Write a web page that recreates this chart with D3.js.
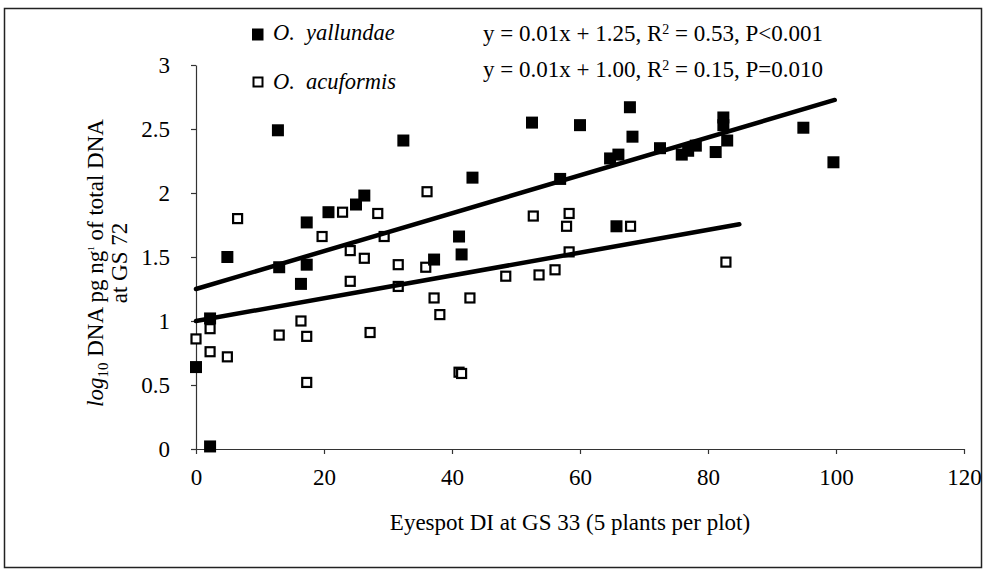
<!DOCTYPE html>
<html>
<head>
<meta charset="utf-8">
<script src="https://cdn.jsdelivr.net/npm/d3@7/dist/d3.min.js"></script>
<style>
  html, body { margin: 0; padding: 0; background: #fff; }
  svg { display: block; font-family: "Liberation Serif", "Times New Roman", serif; }
</style>
</head>
<body>
<svg id="chart" width="990" height="571"></svg>
<script>
// Eyespot disease index at GS 33 (x) vs log10 DNA at GS 72 (y)
const yallundaeX = [0, 2.2, 2.2, 4.9, 12.8, 13.0, 16.4, 17.3, 17.3, 20.7, 25.0, 26.3, 32.4, 37.2, 41.1, 41.5, 43.2,
  52.5, 56.9, 60.0, 64.7, 66.0, 65.7, 67.8, 68.2, 72.5, 75.9, 76.9, 78.1, 81.2, 82.4, 82.4, 83.0, 94.9, 99.6];
const yallundaeY = [0.64, 0.02, 1.02, 1.50, 2.49, 1.42, 1.29, 1.44, 1.77, 1.85, 1.91, 1.98, 2.41, 1.48, 1.66, 1.52, 2.12,
  2.55, 2.11, 2.53, 2.27, 2.30, 1.74, 2.67, 2.44, 2.35, 2.30, 2.33, 2.37, 2.32, 2.59, 2.53, 2.41, 2.51, 2.24];

const acuformisX = [0, 2.2, 2.2, 4.9, 6.5, 13.0, 16.4, 17.3, 17.3, 19.7, 22.9, 24.1, 24.1, 26.3, 27.2, 28.4, 29.4,
  31.6, 31.6, 35.9, 36.1, 37.2, 38.1, 41.1, 41.5, 42.8, 48.4, 52.7, 53.6, 56.1, 58.3, 57.9, 58.3, 67.9, 82.8];
const acuformisY = [0.86, 0.94, 0.76, 0.72, 1.80, 0.89, 1.00, 0.88, 0.52, 1.66, 1.85, 1.55, 1.31, 1.49, 0.91, 1.84, 1.66,
  1.44, 1.27, 1.42, 2.01, 1.18, 1.05, 0.60, 0.59, 1.18, 1.35, 1.82, 1.36, 1.40, 1.84, 1.74, 1.54, 1.74, 1.46];

// Fitted trend lines: intercept, slope, and x range covered
const trendIntercept = [1.25, 1.00];
const trendSlope = [0.0148, 0.0089];
const trendXEnd = [99.8, 84.9];

const xTicks = [0, 20, 40, 60, 80, 100, 120];
const yTicks = [0, 0.5, 1, 1.5, 2, 2.5, 3];
const yTickLabels = ["0", "0.5", "1", "1.5", "2", "2.5", "3"];

const serif = '"Liberation Serif", "Times New Roman", serif';
const svg = d3.select("#chart");

// outer frame
svg.append("rect")
  .attr("x", 4.5).attr("y", 8.5).attr("width", 977).attr("height", 559)
  .attr("fill", "none").attr("stroke", "#222").attr("stroke-width", 1.5);

const x = d3.scaleLinear().domain([0, 120]).range([196, 964]);
const y = d3.scaleLinear().domain([0, 3]).range([449, 65]);

// axes
const xAxis = d3.axisBottom(x).tickValues(xTicks).tickSize(5).tickSizeOuter(0).tickPadding(15);
const yAxis = d3.axisLeft(y).tickValues(yTicks).tickSize(5).tickSizeOuter(0).tickPadding(21)
  .tickFormat((d, i) => yTickLabels[i]);

const gx = svg.append("g").attr("transform", `translate(0,${y(0)})`).call(xAxis);
const gy = svg.append("g").attr("transform", `translate(${x(0)},0)`).call(yAxis);
[gx, gy].forEach(g => {
  g.attr("font-family", serif).attr("font-size", 23);
  g.selectAll("path, line").attr("stroke", "#333").attr("stroke-width", 1.2);
  g.selectAll("text").attr("fill", "#000");
});

// markers
const yalData = yallundaeX.map((v, i) => [v, yallundaeY[i]]);
const acuData = acuformisX.map((v, i) => [v, acuformisY[i]]);

svg.append("g").selectAll("rect").data(acuData).join("rect")
  .attr("x", d => x(d[0]) - 4.5).attr("y", d => y(d[1]) - 4.5)
  .attr("width", 9).attr("height", 9)
  .attr("fill", "#fff").attr("stroke", "#000").attr("stroke-width", 2.2);

svg.append("g").selectAll("rect").data(yalData).join("rect")
  .attr("x", d => x(d[0]) - 6).attr("y", d => y(d[1]) - 6)
  .attr("width", 12).attr("height", 12)
  .attr("fill", "#000");

// trend lines
svg.append("g").selectAll("line").data(trendIntercept).join("line")
  .attr("x1", x(0)).attr("y1", d => y(d))
  .attr("x2", (d, i) => x(trendXEnd[i]))
  .attr("y2", (d, i) => y(d + trendSlope[i] * trendXEnd[i]))
  .attr("stroke", "#000").attr("stroke-width", 4.5).attr("stroke-linecap", "round");

// legend
const legend = svg.append("g").attr("font-family", serif);
legend.append("rect").attr("x", 252).attr("y", 28.5).attr("width", 11.5).attr("height", 12).attr("fill", "#000");
legend.append("rect").attr("x", 253.5).attr("y", 77.5).attr("width", 9).attr("height", 9)
  .attr("fill", "#fff").attr("stroke", "#000").attr("stroke-width", 2);
legend.append("text").attr("x", 273).attr("y", 39.5).style("font-size", "22.5px").style("font-style", "italic")
  .attr("xml:space", "preserve").text("O.  yallundae");
legend.append("text").attr("x", 273).attr("y", 88.5).style("font-size", "22.5px").style("font-style", "italic")
  .attr("xml:space", "preserve").text("O.  acuformis");

// regression equations
function equation(yPos, parts) {
  const t = svg.append("text").attr("x", 483).attr("y", yPos).style("font-size", "23px");
  parts.forEach(p => {
    const s = t.append("tspan").text(p.t);
    if (p.sup) s.attr("baseline-shift", "super").style("font-size", "14px");
  });
  return t;
}
equation(41, [{t: "y = 0.01x + 1.25, R"}, {t: "2", sup: true}, {t: " = 0.53, P<0.001"}]);
equation(76.5, [{t: "y = 0.01x + 1.00, R"}, {t: "2", sup: true}, {t: " = 0.15, P=0.010"}]);

// axis titles
svg.append("text").attr("x", 570).attr("y", 530).attr("text-anchor", "middle")
  .style("font-size", "23px").text("Eyespot DI at GS 33 (5 plants per plot)");

const yl = svg.append("text").attr("text-anchor", "middle")
  .attr("transform", "translate(103,263) rotate(-90)").style("font-size", "23px");
yl.append("tspan").style("font-style", "italic").text("log");
yl.append("tspan").attr("dy", 5).style("font-size", "15px").text("10");
yl.append("tspan").attr("dy", -5).text(" DNA pg ng");
yl.append("tspan").attr("dy", -9).attr("dx", -3).style("font-size", "9px").text("-1");
yl.append("tspan").attr("dy", 9).text(" of total DNA");

svg.append("text").attr("text-anchor", "middle")
  .attr("transform", "translate(127,263) rotate(-90)").style("font-size", "23px").text("at GS 72");
</script>
</body>
</html>
